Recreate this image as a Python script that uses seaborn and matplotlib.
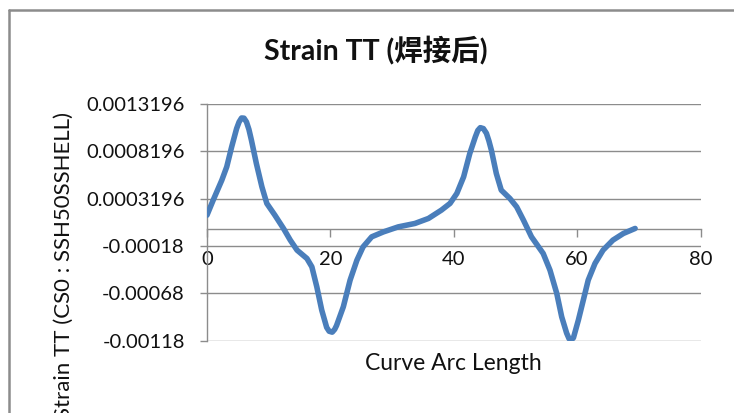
import matplotlib
matplotlib.use("Agg")
import matplotlib.pyplot as plt
from matplotlib.lines import Line2D
import seaborn as sns
import pandas as pd

# Curve arc length along the weld path and the TT strain after welding
arc_length = [0, 1.0, 2.4, 3.2, 4.0, 4.8, 5.2, 5.6, 6.0, 6.4, 6.8, 7.2, 8.0, 8.9, 9.7,
              11.0, 12.4, 13.5, 14.6, 16.2, 17.0, 17.8, 18.6, 19.4, 19.8, 20.3, 20.7,
              21.0, 22.1, 23.2, 24.3, 25.3, 26.7, 28.6, 31.0, 33.7, 35.9, 38.0, 39.4,
              40.5, 41.6, 42.6, 43.5, 43.9, 44.3, 44.8, 45.3, 45.7, 46.1, 46.9, 47.7,
              49.1, 50.2, 51.3, 52.6, 54.5, 55.6, 56.7, 57.5, 58.3, 58.7, 59.0, 59.4,
              60.2, 61.0, 61.8, 62.9, 64.2, 65.8, 67.5, 69.4]
strain_tt = [0.000146, 0.000304, 0.000515, 0.000656, 0.000867, 0.00106, 0.00113,
             0.001172, 0.00117, 0.00113, 0.00105, 0.000938, 0.000692, 0.000445,
             0.000269, 0.000146, 0.000005, -0.000118, -0.000224, -0.000312, -0.0004,
             -0.000611, -0.000857, -0.00104, -0.00108, -0.00109, -0.00106, -0.00102,
             -0.000822, -0.00054, -0.00033, -0.000189, -0.000083, -0.000031, 0.000022,
             0.000058, 0.000111, 0.000199, 0.00027, 0.000375, 0.00055, 0.000797,
             0.000973, 0.00104, 0.00107, 0.00106, 0.00101, 0.00093, 0.000832,
             0.000586, 0.00041, 0.000322, 0.000233, 0.000093, -0.000083, -0.000259,
             -0.000435, -0.000681, -0.000928, -0.00110, -0.00116, -0.001175, -0.00115,
             -0.000963, -0.000752, -0.00054, -0.000364, -0.000224, -0.000118,
             -0.0000475, 0.0000053]

y_ticks = [-0.00118, -0.00068, -0.00018, 0.0003196, 0.0008196, 0.0013196]
y_tick_labels = ["-0.00118", "-0.00068", "-0.00018", "0.0003196", "0.0008196", "0.0013196"]
x_ticks = [0, 20, 40, 60, 80]

title = "Strain TT (焊接后)"
x_label = "Curve Arc Length"
y_label = "Strain TT (CS0 : SSH50SSHELL)"

sns.set_theme(style="white")
plt.rcParams["font.family"] = ["Lato", "Noto Sans CJK SC", "DejaVu Sans"]

W, H = 734, 413
fig = plt.figure(figsize=(W / 100, H / 100), dpi=100)
fig.patch.set_facecolor("white")

# plot area in pixel coordinates
left, right, top, bottom = 207, 700.5, 104, 340.7
ax = fig.add_axes([left / W, 1 - bottom / H, (right - left) / W, (bottom - top) / H])

df = pd.DataFrame({"arc": arc_length, "strain": strain_tt})
sns.lineplot(data=df, x="arc", y="strain", ax=ax, sort=False, estimator=None,
             color="#4a7ebb", linewidth=4.0, solid_joinstyle="round",
             solid_capstyle="round", zorder=3)

grid_c = "#8c8c8c"
text_c = "#111111"
ax.set_xlim(0, 80)
ax.set_ylim(-0.00118, 0.0013196)
ax.set_yticks(y_ticks)
ax.set_yticklabels(y_tick_labels)
ax.set_xticks(x_ticks)
ax.set_xticklabels([str(v) for v in x_ticks])

for s in ["top", "right"]:
    ax.spines[s].set_visible(False)
ax.spines["left"].set_color(grid_c)
ax.spines["left"].set_linewidth(1.0)
ax.spines["bottom"].set_position(("data", 0))
ax.spines["bottom"].set_color(grid_c)
ax.spines["bottom"].set_linewidth(1.0)

ax.yaxis.grid(True, color=grid_c, linewidth=1.0)
ax.xaxis.grid(False)
ax.set_axisbelow(True)

ax.tick_params(axis="y", which="major", direction="out", length=5, width=1.0,
               color=grid_c, pad=11, labelsize=14.5, labelcolor=text_c, left=True)
ax.tick_params(axis="x", which="major", direction="out", length=6, width=1.0,
               color=grid_c, pad=10, labelsize=14.5, labelcolor=text_c, bottom=True)

ax.set_xlabel("")
ax.set_ylabel("")

fig.text(453.5 / W, 1 - 364 / H, x_label, ha="center", va="center",
         fontsize=16.5, color=text_c)
fig.text(64 / W, 1 - 112 / H, y_label, ha="center", va="top", rotation=90,
         fontsize=16, color=text_c)
fig.text(375.5 / W, 1 - 50 / H, title, ha="center", va="center",
         fontsize=20.5, fontweight="bold", color=text_c)

# chart frame
fig.add_artist(Line2D([8.5 / W, 8.5 / W], [0, 1 - 10 / H], transform=fig.transFigure,
                      color="#8c8c8c", linewidth=1.8))
fig.add_artist(Line2D([8.5 / W, 1.0], [1 - 10 / H, 1 - 10 / H], transform=fig.transFigure,
                      color="#8c8c8c", linewidth=1.8))

fig.savefig("out.png", dpi=100)
